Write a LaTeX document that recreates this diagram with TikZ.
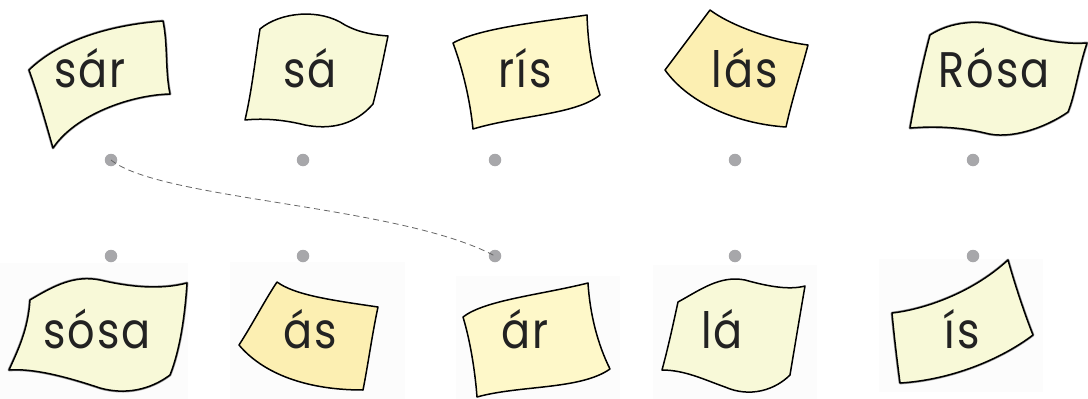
\documentclass[tikz,border=0pt]{standalone}
\usepackage{fontspec}
\newfontfamily\cardfont{Poppins}[LetterSpace=4,FakeStretch=0.86]
\definecolor{dotgray}{HTML}{A7A7AA}
\definecolor{paleA}{HTML}{F8F9D8}
\definecolor{paleB}{HTML}{FEF8C9}
\definecolor{deepY}{HTML}{FCEFB2}
\definecolor{inkc}{HTML}{222222}
\begin{document}
\begin{tikzpicture}[x=1pt,y=-1pt,
  card/.style={draw=black,line width=1.5pt,line join=round},
  rough/.style={draw=black!40,line width=2.8pt,line join=round},
  word/.style={anchor=base,inner sep=0pt,text=inkc,font=\cardfont\fontsize{50}{60}\selectfont},
  dot/.style={circle,fill=dotgray,inner sep=0pt,minimum size=12.5pt},
  conn/.style={draw=black!60,line width=0.8pt,dash pattern=on 6pt off 4pt},
  scan/.style={fill=black!1,draw=none}]
\useasboundingbox (0,0) rectangle (1088,399);
% faint scan backgrounds (bottom row)
\fill[scan] (0,263) rectangle (188,399);
\fill[scan] (230,262) rectangle (405,399);
\fill[scan] (456,276) rectangle (620,399);
\fill[scan] (653,265) rectangle (817,399);
\fill[scan] (879,259) rectangle (1043,392);
% ---- top row cards
% sar
\path[rough] (29,70) .. controls (60,40) and (110,25) .. (163,21) .. controls (168,45) and (165,70) .. (170,94) .. controls (130,95) and (75,115) .. (53,148) .. controls (45,120) and (38,95) .. cycle;
\path[card,fill=paleA] (29,70) .. controls (60,40) and (110,25) .. (163,21) .. controls (168,45) and (165,70) .. (170,94) .. controls (130,95) and (75,115) .. (53,148) .. controls (45,120) and (38,95) .. cycle;
% sa
\path[card,fill=paleA] (260,29) .. controls (280,12) and (320,8) .. (345,25) .. controls (360,33) and (375,35) .. (388,36) .. controls (383,60) and (378,85) .. (373,104) .. controls (355,125) and (330,130) .. (305,125) .. controls (285,120) and (265,118) .. (245,120) .. controls (252,90) and (255,60) .. cycle;
% ris
\path[card,fill=paleB] (453,43) .. controls (480,28) and (540,22) .. (587,15) .. controls (588,45) and (592,70) .. (600,95) .. controls (575,115) and (520,115) .. (473,129) .. controls (470,100) and (463,70) .. cycle;
% las
\path[card,fill=deepY] (665,70) .. controls (680,50) and (695,30) .. (710,10) .. controls (730,25) and (770,40) .. (808,45) .. controls (800,75) and (792,100) .. (786,127) .. controls (740,124) and (690,105) .. cycle;
% Rosa
\path[rough] (930,35) .. controls (950,22) and (980,18) .. (1005,28) .. controls (1030,38) and (1060,45) .. (1087,43) .. controls (1078,70) and (1075,95) .. (1068,112) .. controls (1045,128) and (1010,140) .. (985,133) .. controls (960,127) and (935,126) .. (910,128) .. controls (915,100) and (922,65) .. cycle;
\path[card,fill=paleA] (930,35) .. controls (950,22) and (980,18) .. (1005,28) .. controls (1030,38) and (1060,45) .. (1087,43) .. controls (1078,70) and (1075,95) .. (1068,112) .. controls (1045,128) and (1010,140) .. (985,133) .. controls (960,127) and (935,126) .. (910,128) .. controls (915,100) and (922,65) .. cycle;
% ---- bottom row cards
% sosa
\path[rough] (30,300) .. controls (55,285) and (75,275) .. (100,280) .. controls (130,287) and (160,290) .. (187,283) .. controls (185,315) and (180,350) .. (170,375) .. controls (150,390) and (125,395) .. (100,388) .. controls (70,378) and (35,368) .. (9,370) .. controls (18,350) and (28,330) .. cycle;
\path[card,fill=paleA] (30,300) .. controls (55,285) and (75,275) .. (100,280) .. controls (130,287) and (160,290) .. (187,283) .. controls (185,315) and (180,350) .. (170,375) .. controls (150,390) and (125,395) .. (100,388) .. controls (70,378) and (35,368) .. (9,370) .. controls (18,350) and (28,330) .. cycle;
% as
\path[card,fill=deepY] (239,345) .. controls (252,325) and (265,300) .. (277,282) .. controls (295,295) and (330,300) .. (378,307) .. controls (372,335) and (368,365) .. (363,390) .. controls (300,390) and (260,370) .. cycle;
% ar
\path[card,fill=paleB] (463,317) .. controls (485,300) and (540,295) .. (588,283) .. controls (590,315) and (598,345) .. (610,369) .. controls (580,390) and (520,385) .. (477,397) .. controls (475,370) and (470,340) .. cycle;
% la
\path[card,fill=paleA] (678,302) .. controls (700,290) and (720,275) .. (745,280) .. controls (770,287) and (790,290) .. (805,286) .. controls (800,315) and (795,345) .. (790,375) .. controls (775,390) and (750,398) .. (725,387) .. controls (705,380) and (685,370) .. (662,370) .. controls (668,348) and (673,325) .. cycle;
% is
\path[rough] (892,313) .. controls (920,310) and (970,295) .. (1008,260) .. controls (1015,285) and (1025,315) .. (1033,335) .. controls (1000,360) and (950,380) .. (900,383) .. controls (897,360) and (894,335) .. cycle;
\path[card,fill=paleA] (892,313) .. controls (920,310) and (970,295) .. (1008,260) .. controls (1015,285) and (1025,315) .. (1033,335) .. controls (1000,360) and (950,380) .. (900,383) .. controls (897,360) and (894,335) .. cycle;
% ---- words
\node[word] (w1) at (90,87) {sár};
\node[word] (w2) at (310,87) {sá};
\node[word] (w3) at (525,87) {rís};
\node[word] (w4) at (745,87) {lás};
\node[word] (w5) at (994,87) {Rósa};
\node[word] (w6) at (97,348) {sósa};
\node[word] (w7) at (310,348) {ás};
\node[word] (w8) at (525,348) {ár};
\node[word] (w9) at (722,348) {lá};
\node[word] (w10) at (962,348) {ís};
% ---- dots
\node[dot] (a1) at (111,160) {};
\node[dot] (a2) at (303,160) {};
\node[dot] (a3) at (495,160) {};
\node[dot] (a4) at (735,160) {};
\node[dot] (a5) at (973,160) {};
\node[dot] (b1) at (111,256) {};
\node[dot] (b2) at (303,256) {};
\node[dot] (b3) at (495,256) {};
\node[dot] (b4) at (735,256) {};
\node[dot] (b5) at (973,256) {};
% ---- connector
\draw[conn] (a1.center) .. controls (160,200) and (400,205) .. (b3.center);
\end{tikzpicture}
\end{document}
